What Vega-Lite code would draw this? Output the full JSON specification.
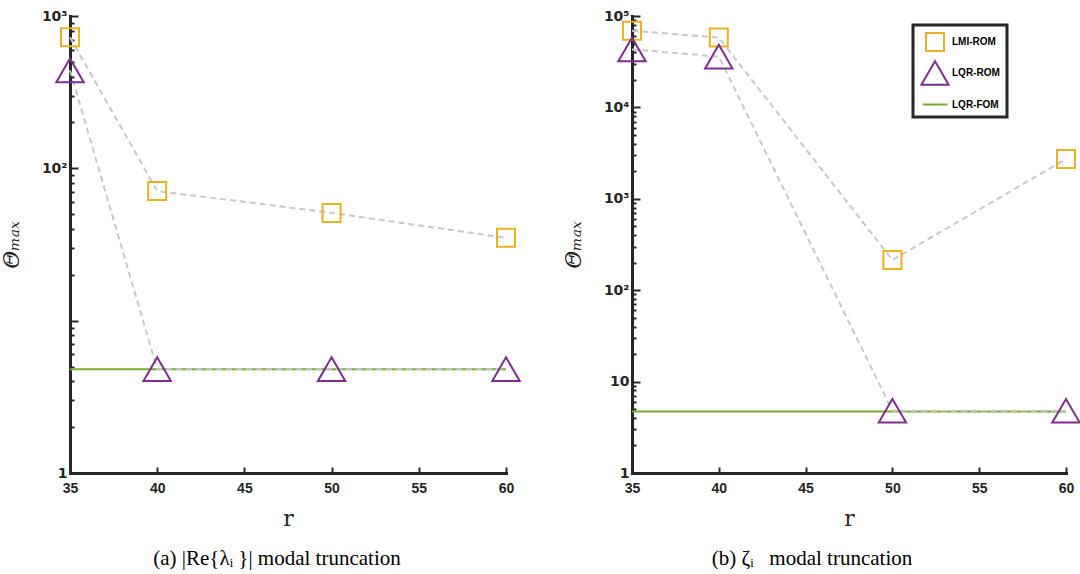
{
  "$schema": "https://vega.github.io/schema/vega-lite/v6.json",
  "padding": {"left": 0, "top": 9, "right": 10, "bottom": 5},
  "background": "white",
  "config": {
    "view": {"stroke": null},
    "axis": {
      "domainColor": "#262626", "domainWidth": 3, "domainCap": "square",
      "tickColor": "#262626", "tickWidth": 2,
      "labelFont": "Liberation Sans", "labelFontWeight": "bold", "labelFontSize": 14, "labelColor": "#262626",
      "labelOverlap": false, "labelFlush": false,
      "grid": false,
      "titleFont": "DejaVu Serif", "titleFontWeight": "normal", "titleFontSize": 22, "titleColor": "#262626"
    },
    "legend": {"strokeWidth": 3},
    "title": {"font": "Liberation Serif", "fontSize": 21, "fontWeight": "normal", "color": "black"}
  },
  "data": {"values": [
    {"panel": "a", "series": "LMI-ROM", "r": 35, "v": 725},
    {"panel": "a", "series": "LMI-ROM", "r": 40, "v": 71},
    {"panel": "a", "series": "LMI-ROM", "r": 50, "v": 51},
    {"panel": "a", "series": "LMI-ROM", "r": 60, "v": 35},
    {"panel": "a", "series": "LQR-ROM", "r": 35, "v": 440},
    {"panel": "a", "series": "LQR-ROM", "r": 40, "v": 4.8},
    {"panel": "a", "series": "LQR-ROM", "r": 50, "v": 4.8},
    {"panel": "a", "series": "LQR-ROM", "r": 60, "v": 4.8},
    {"panel": "a", "series": "LQR-FOM", "r": 35, "v": 4.8},
    {"panel": "a", "series": "LQR-FOM", "r": 60, "v": 4.8},
    {"panel": "b", "series": "LMI-ROM", "r": 35, "v": 69000},
    {"panel": "b", "series": "LMI-ROM", "r": 40, "v": 58000},
    {"panel": "b", "series": "LMI-ROM", "r": 50, "v": 214},
    {"panel": "b", "series": "LMI-ROM", "r": 60, "v": 2720},
    {"panel": "b", "series": "LQR-ROM", "r": 35, "v": 43000},
    {"panel": "b", "series": "LQR-ROM", "r": 40, "v": 36000},
    {"panel": "b", "series": "LQR-ROM", "r": 50, "v": 4.8},
    {"panel": "b", "series": "LQR-ROM", "r": 60, "v": 4.8},
    {"panel": "b", "series": "LQR-FOM", "r": 35, "v": 4.7},
    {"panel": "b", "series": "LQR-FOM", "r": 60, "v": 4.7}
  ]},
  "spacing": 126,
  "bounds": "flush",
  "resolve": {"scale": {"color": "independent", "shape": "independent", "size": "independent"}},
  "hconcat": [
    {
      "width": 436, "height": 457,
      "title": {"text": "(a) |Re{λᵢ }| modal truncation", "orient": "bottom", "anchor": "middle", "offset": 19, "dx": -11},
      "transform": [{"filter": "datum.panel == 'a'"}],
      "layer": [
        {
          "transform": [{"filter": "datum.series == 'LQR-FOM'"}],
          "mark": {"type": "line", "color": "#77AC30", "strokeWidth": 2},
          "encoding": {
            "x": {"field": "r", "type": "quantitative",
              "scale": {"domain": [35, 60], "nice": false, "zero": false},
              "axis": {"values": [35, 40, 45, 50, 55, 60], "tickSize": -6, "labelPadding": 14, "title": "r", "titlePadding": 13}},
            "y": {"field": "v", "type": "quantitative",
              "scale": {"type": "log", "domain": [1, 1000], "nice": false},
              "axis": {
                "values": [1, 2, 3, 4, 5, 6, 7, 8, 9, 10, 20, 30, 40, 50, 60, 70, 80, 90, 100, 200, 300, 400, 500, 600, 700, 800, 900, 1000],
                "labelExpr": "datum.value == 1 ? '1' : datum.value == 100 ? '10²' : datum.value == 1000 ? '10³' : ''",
                "labelFont": "DejaVu Sans", "labelFontSize": 14,
                "tickSize": {"condition": {"test": "indexof([1, 10, 100, 1000], datum.value) >= 0", "value": -8}, "value": -4},
                "labelPadding": 11,
                "title": "Θₘₐₓ", "titleFontStyle": "italic", "titlePadding": 18
              }}
          }
        },
        {
          "transform": [{"filter": "datum.series != 'LQR-FOM'"}],
          "mark": {"type": "line", "color": "#c8c8c8", "strokeWidth": 2, "strokeDash": [6, 4]},
          "encoding": {
            "x": {"field": "r", "type": "quantitative"},
            "y": {"field": "v", "type": "quantitative"},
            "detail": {"field": "series"}
          }
        },
        {
          "transform": [{"filter": "datum.series != 'LQR-FOM'"}],
          "mark": {"type": "point", "filled": false, "strokeWidth": 2, "opacity": 1},
          "encoding": {
            "x": {"field": "r", "type": "quantitative"},
            "y": {"field": "v", "type": "quantitative"},
            "color": {"field": "series", "type": "nominal",
              "scale": {"domain": ["LMI-ROM", "LQR-ROM", "LQR-FOM"], "range": ["#EDB120", "#7E2F8E", "#77AC30"]}, "legend": null},
            "shape": {"field": "series", "type": "nominal",
              "scale": {"domain": ["LMI-ROM", "LQR-ROM", "LQR-FOM"], "range": ["square", "triangle-up", "stroke"]}, "legend": null},
            "size": {"field": "series", "type": "nominal",
              "scale": {"type": "ordinal", "domain": ["LMI-ROM", "LQR-ROM", "LQR-FOM"], "range": [324, 750, 625]}, "legend": null}
          }
        }
      ]
    },
    {
      "width": 434, "height": 457,
      "title": {"text": "(b) ζᵢ\u00a0\u00a0 modal truncation", "orient": "bottom", "anchor": "middle", "offset": 19, "dx": -37},
      "transform": [{"filter": "datum.panel == 'b'"}],
      "layer": [
        {
          "transform": [{"filter": "datum.series == 'LQR-FOM'"}],
          "mark": {"type": "line", "color": "#77AC30", "strokeWidth": 2},
          "encoding": {
            "x": {"field": "r", "type": "quantitative",
              "scale": {"domain": [35, 60], "nice": false, "zero": false},
              "axis": {"values": [35, 40, 45, 50, 55, 60], "tickSize": -6, "labelPadding": 14, "title": "r", "titlePadding": 13}},
            "y": {"field": "v", "type": "quantitative",
              "scale": {"type": "log", "domain": [1, 100000], "nice": false},
              "axis": {
                "values": [1, 2, 3, 4, 5, 6, 7, 8, 9, 10, 20, 30, 40, 50, 60, 70, 80, 90, 100, 200, 300, 400, 500, 600, 700, 800, 900, 1000, 2000, 3000, 4000, 5000, 6000, 7000, 8000, 9000, 10000, 20000, 30000, 40000, 50000, 60000, 70000, 80000, 90000, 100000],
                "labelExpr": "datum.value == 1 ? '1' : datum.value == 10 ? '10' : datum.value == 100 ? '10²' : datum.value == 1000 ? '10³' : datum.value == 10000 ? '10⁴' : datum.value == 100000 ? '10⁵' : ''",
                "labelFont": "DejaVu Sans", "labelFontSize": 14,
                "tickSize": {"condition": {"test": "indexof([1, 10, 100, 1000, 10000, 100000], datum.value) >= 0", "value": -8}, "value": -4},
                "labelPadding": 11,
                "title": "Θₘₐₓ", "titleFontStyle": "italic", "titlePadding": 18
              }}
          }
        },
        {
          "transform": [{"filter": "datum.series != 'LQR-FOM'"}],
          "mark": {"type": "line", "color": "#c8c8c8", "strokeWidth": 2, "strokeDash": [6, 4]},
          "encoding": {
            "x": {"field": "r", "type": "quantitative"},
            "y": {"field": "v", "type": "quantitative"},
            "detail": {"field": "series"}
          }
        },
        {
          "transform": [{"filter": "datum.series != 'LQR-FOM'"}],
          "mark": {"type": "point", "filled": false, "strokeWidth": 2, "opacity": 1},
          "encoding": {
            "x": {"field": "r", "type": "quantitative"},
            "y": {"field": "v", "type": "quantitative"},
            "color": {"field": "series", "type": "nominal",
              "scale": {"domain": ["LMI-ROM", "LQR-ROM", "LQR-FOM"], "range": ["#EDB120", "#7E2F8E", "#77AC30"]},
              "legend": {"title": null, "orient": "none", "legendX": 281, "legendY": 9,
                "strokeColor": "#262626", "fillColor": "white", "padding": 7,
                "labelFont": "Liberation Sans", "labelFontWeight": "bold", "labelFontSize": 10, "labelColor": "black",
                "symbolStrokeWidth": 2, "rowPadding": 2, "labelOffset": 2}},
            "shape": {"field": "series", "type": "nominal",
              "scale": {"domain": ["LMI-ROM", "LQR-ROM", "LQR-FOM"], "range": ["square", "triangle-up", "stroke"]}},
            "size": {"field": "series", "type": "nominal",
              "scale": {"type": "ordinal", "domain": ["LMI-ROM", "LQR-ROM", "LQR-FOM"], "range": [324, 750, 625]}}
          }
        }
      ]
    }
  ]
}
